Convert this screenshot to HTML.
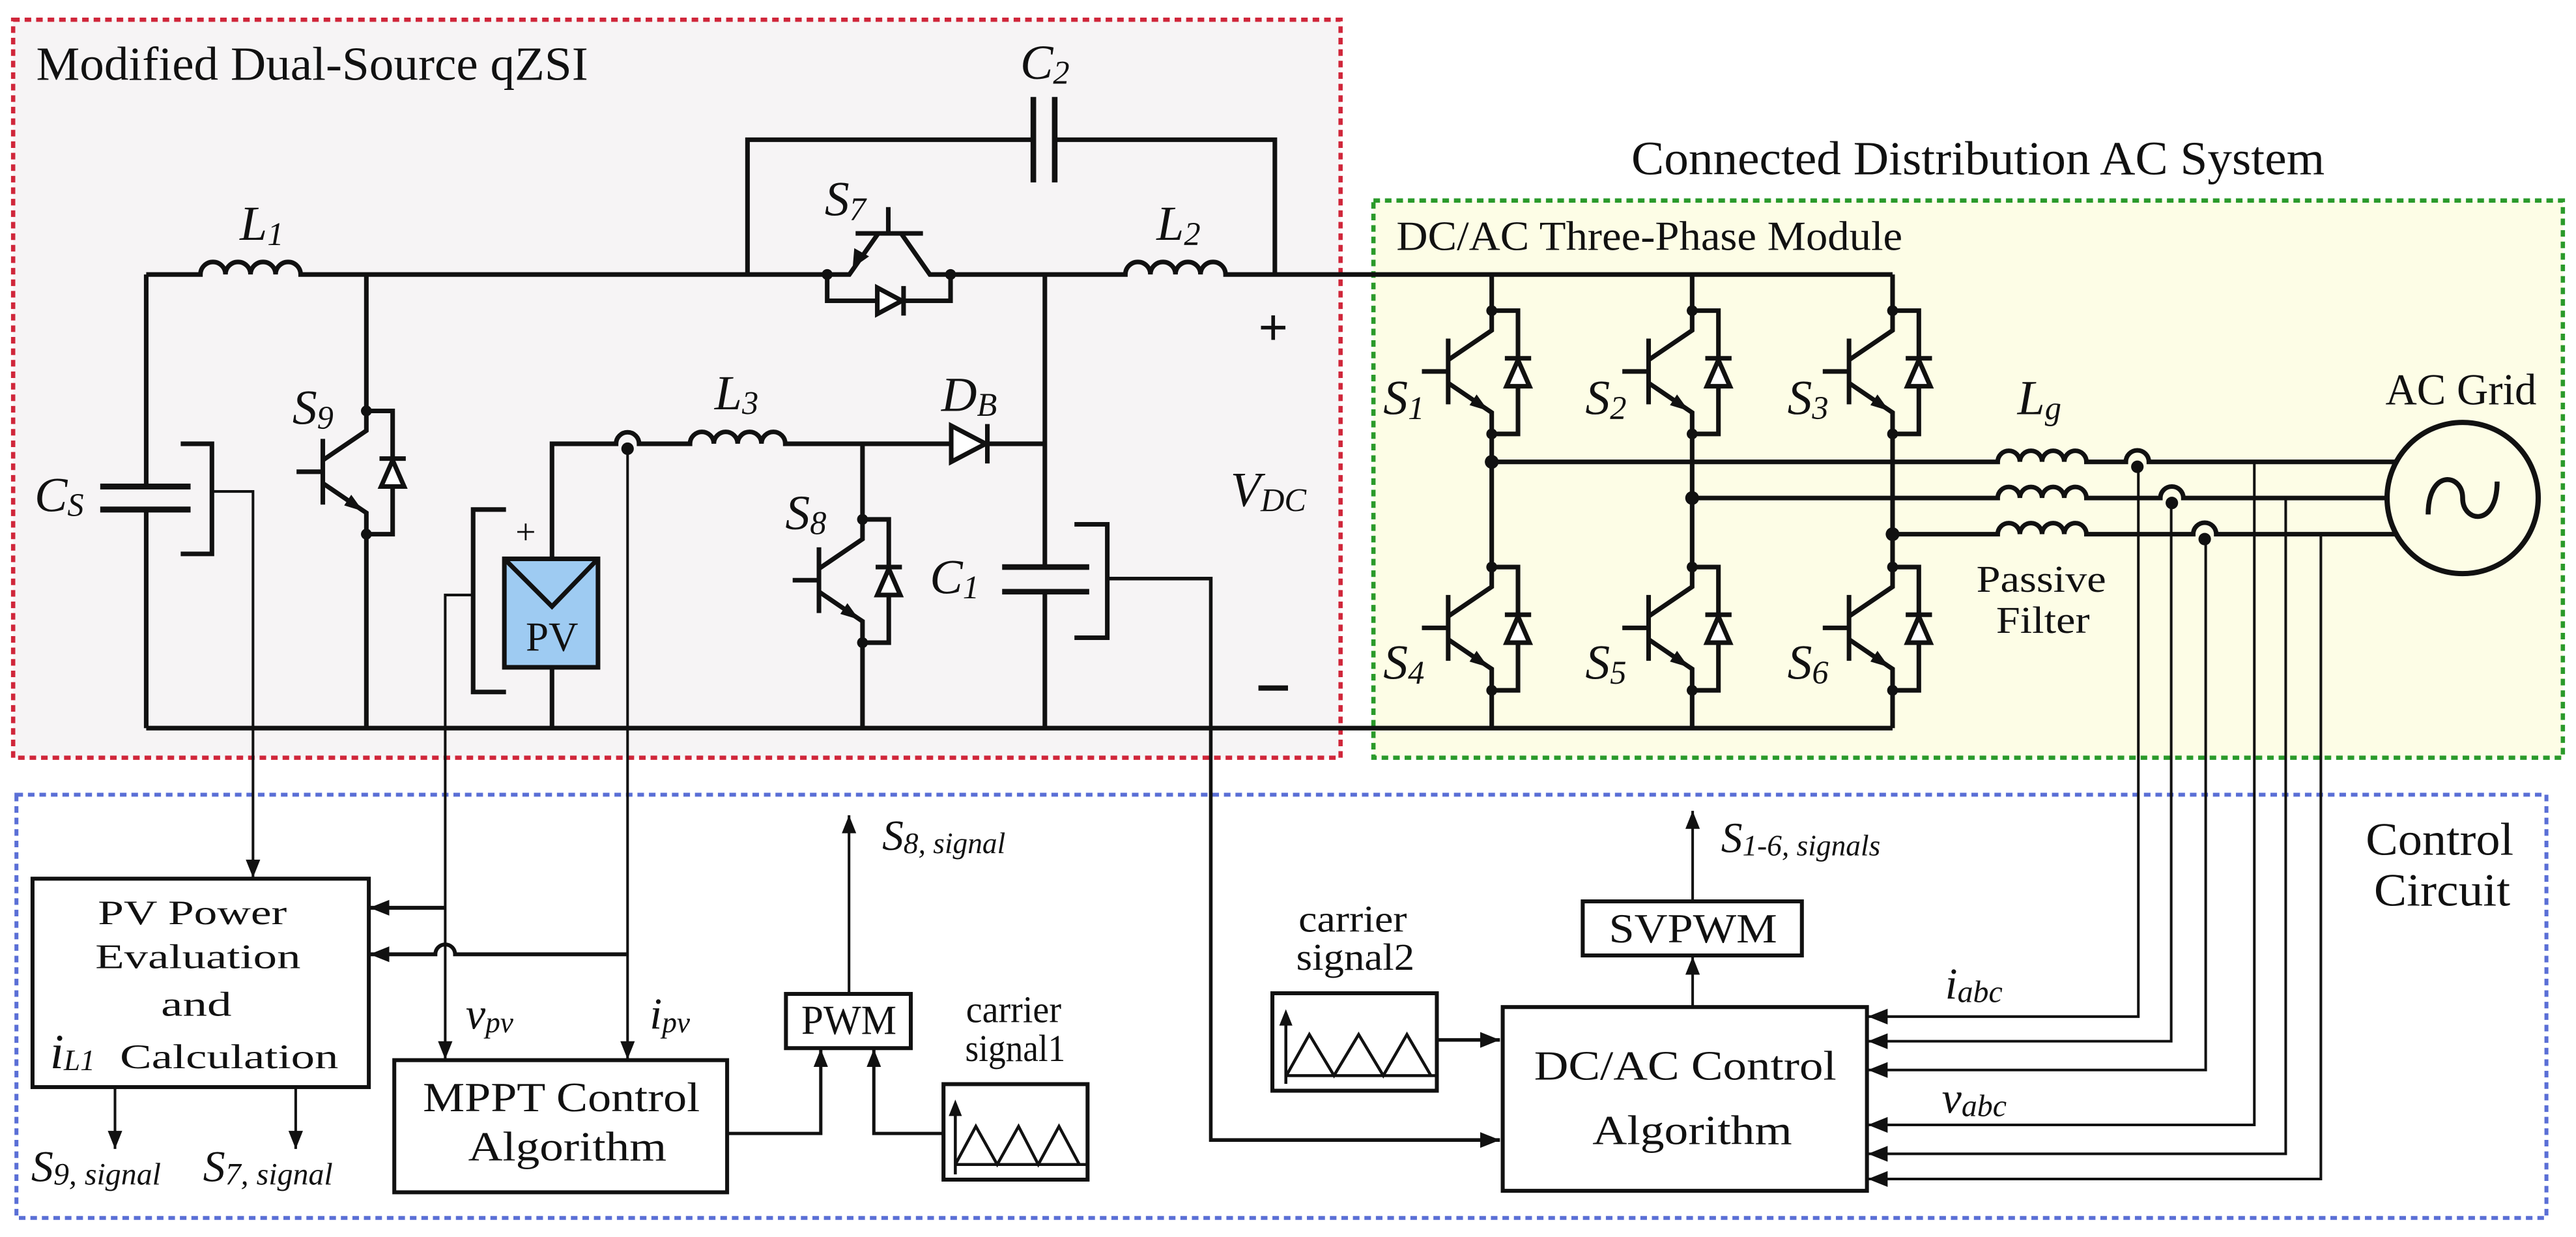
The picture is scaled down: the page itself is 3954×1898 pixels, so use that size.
<!DOCTYPE html>
<html><head><meta charset="utf-8"><style>
html,body{margin:0;padding:0;background:#fff;}
svg{display:block;}
text{font-family:"Liberation Serif",serif;fill:#111;}
.i{font-style:italic;}
</style></head><body>
<svg width="3954" height="1898" viewBox="0 0 1568 752.6" preserveAspectRatio="none" xmlns="http://www.w3.org/2000/svg">
<defs>
<marker id="a" viewBox="0 0 10 8" refX="10" refY="4" markerWidth="11" markerHeight="9" markerUnits="userSpaceOnUse" orient="auto"><path d="M0,0L10,4L0,8z" fill="#111"/></marker>
<marker id="b" viewBox="0 0 10 8" refX="10" refY="4" markerWidth="12" markerHeight="11" markerUnits="userSpaceOnUse" orient="auto"><path d="M0,0L10,4L0,8z" fill="#111"/></marker>
<g id="igbt" stroke="#111" stroke-width="2.8" fill="none">
 <path d="M0,0 V12 L-26.5,30 M-26.5,44 L-3,60 L0,62 V75"/>
 <path d="M-26.5,17 V57 M-42.5,37 H-26.5"/>
 <path d="M0,0 H16 V75 H0"/>
 <path d="M9,46 H23 L16,30 Z M8,29 H24" fill="#fff"/>
 <polygon points="-2,61 -13.5,57.5 -9.2,51" fill="#111" stroke="none"/>
 <circle cx="0" cy="0" r="3.3" fill="#111" stroke="none"/>
 <circle cx="0" cy="75" r="3.3" fill="#111" stroke="none"/>
</g>
</defs>

<rect x="8" y="12" width="808" height="449" fill="#f6f4f5" stroke="#d0263a" stroke-width="2.6" stroke-dasharray="4 3"/>
<rect x="836" y="122" width="724" height="339" fill="#fdfde6" stroke="#2a9a2a" stroke-width="2.6" stroke-dasharray="4 3"/>
<rect x="10" y="483.5" width="1540" height="257.5" fill="#fff" stroke="#5a6fd6" stroke-width="2.4" stroke-dasharray="4 3"/>

<text x="22" y="48.6" font-size="29" textLength="336" lengthAdjust="spacingAndGlyphs">Modified Dual-Source qZSI</text>
<text x="993" y="106" font-size="29" textLength="422" lengthAdjust="spacingAndGlyphs">Connected Distribution AC System</text>
<text x="850" y="152" font-size="25" textLength="308" lengthAdjust="spacingAndGlyphs">DC/AC Three-Phase Module</text>

<g stroke="#111" stroke-width="2.8" fill="none">
 <path d="M89,167 H122 a7.62,7.62 0 0 1 15.25,0 a7.62,7.62 0 0 1 15.25,0 a7.62,7.62 0 0 1 15.25,0 a7.62,7.62 0 0 1 15.25,0 H503.5"/>
 <path d="M578.6,167 H685 a7.62,7.62 0 0 1 15.25,0 a7.62,7.62 0 0 1 15.25,0 a7.62,7.62 0 0 1 15.25,0 a7.62,7.62 0 0 1 15.25,0 H1152"/>
 <path d="M89,443 H1152"/>
 <path d="M89,167 V296 M89,310 V443"/>
 <path d="M61,296 H116 M61,310 H116" stroke-width="3.6"/>
 <path d="M110,270 H129 V337 H110"/>
 <path d="M223,167 V250 M223,325 V443"/>
 <path d="M455,167 V85 H629 M642,85 H776 V167"/>
 <path d="M629,59 V111 M642,59 V111" stroke-width="3.4"/>
 <path d="M503.5,167 H517 L534.6,142 M548.5,142 L566,167 H578.6"/>
 <path d="M520.8,142 H561.8 M540.7,142 V126"/>
 <path d="M503.5,167 V183 H578.6 V167"/>
 <path d="M534,175 V191 L549,183 Z" fill="#fff"/>
 <path d="M550,174 V192"/>
 <path d="M336,340 V270 H375 a7,7 0 0 1 14,0 H420 a7.25,7.25 0 0 1 14.5,0 a7.25,7.25 0 0 1 14.5,0 a7.25,7.25 0 0 1 14.5,0 a7.25,7.25 0 0 1 14.5,0 H636"/>
 <path d="M579,259 V281 L600,270 Z" fill="#fff"/>
 <path d="M601,258 V282"/>
 <path d="M336,406 V443"/>
 <path d="M308,310 H288 V421 H308"/>
 <path d="M525,270 V316 M525,391 V443"/>
 <path d="M636,167 V345 M636,360 V443"/>
 <path d="M610,345 H663 M610,360 H663" stroke-width="3.4"/>
 <path d="M654,319 H674 V388 H654"/>
 <path d="M908,167 V189 M908,264 V345 M908,420 V443"/>
 <path d="M1030,167 V189 M1030,264 V345 M1030,420 V443"/>
 <path d="M1152,167 V189 M1152,264 V345 M1152,420 V443"/>
 <path d="M908,281 H1216 a6.75,6.75 0 0 1 13.5,0 a6.75,6.75 0 0 1 13.5,0 a6.75,6.75 0 0 1 13.5,0 a6.75,6.75 0 0 1 13.5,0 H1294 a7,7 0 0 1 14,0 H1458.6"/>
 <path d="M1030,303 H1216 a6.75,6.75 0 0 1 13.5,0 a6.75,6.75 0 0 1 13.5,0 a6.75,6.75 0 0 1 13.5,0 a6.75,6.75 0 0 1 13.5,0 H1315 a7,7 0 0 1 14,0 H1453"/>
 <path d="M1152,325 H1216 a6.75,6.75 0 0 1 13.5,0 a6.75,6.75 0 0 1 13.5,0 a6.75,6.75 0 0 1 13.5,0 a6.75,6.75 0 0 1 13.5,0 H1335 a7,7 0 0 1 14,0 H1458.6"/>
 <circle cx="1499" cy="303" r="46" stroke-width="3.2"/>
 <path d="M1478,313 C1478,285 1499,288 1499,303 C1499,318 1520,321 1520,293" stroke-width="3"/>
</g>
<g fill="#111">
 <circle cx="382" cy="273" r="3.8"/>
 <circle cx="908" cy="281" r="4.2"/><circle cx="1030" cy="303" r="4.2"/><circle cx="1152" cy="325" r="4.2"/>
 <circle cx="1301" cy="284" r="3.8"/><circle cx="1322" cy="306" r="3.8"/><circle cx="1342" cy="328" r="3.8"/>
 <circle cx="503.5" cy="167" r="3.3"/><circle cx="578.6" cy="167" r="3.3"/>
 <polygon points="519,163 520,151 529,156"/>
</g>
<rect x="307" y="340" width="57" height="66" fill="#9ecbf2" stroke="#111" stroke-width="2.8"/>
<path d="M307,340 L336,369 L364,340" fill="none" stroke="#111" stroke-width="2.8"/>
<text x="336" y="396" font-size="25" text-anchor="middle">PV</text>
<text x="320" y="331" font-size="22" text-anchor="middle">+</text>

<use href="#igbt" x="223" y="250"/>
<use href="#igbt" x="525" y="316"/>
<use href="#igbt" x="908" y="189"/>
<use href="#igbt" x="1030" y="189"/>
<use href="#igbt" x="1152" y="189"/>
<use href="#igbt" x="908" y="345"/>
<use href="#igbt" x="1030" y="345"/>
<use href="#igbt" x="1152" y="345"/>

<g font-size="30" class="i">
 <text x="621" y="48" class="i">C<tspan font-size="20" dy="3">2</tspan></text>
 <text x="146" y="146" class="i">L<tspan font-size="20" dy="3">1</tspan></text>
 <text x="502" y="131" class="i">S<tspan font-size="20" dy="3">7</tspan></text>
 <text x="704" y="146" class="i">L<tspan font-size="20" dy="3">2</tspan></text>
 <text x="178" y="258" class="i">S<tspan font-size="20" dy="3">9</tspan></text>
 <text x="21" y="311" class="i">C<tspan font-size="20" dy="3">S</tspan></text>
 <text x="435" y="249" class="i">L<tspan font-size="20" dy="3">3</tspan></text>
 <text x="573" y="250" class="i">D<tspan font-size="20" dy="3">B</tspan></text>
 <text x="478" y="322" class="i">S<tspan font-size="20" dy="3">8</tspan></text>
 <text x="566" y="361" class="i">C<tspan font-size="20" dy="3">1</tspan></text>
 <text x="749" y="308" class="i">V<tspan font-size="20" dy="3">DC</tspan></text>
 <text x="842" y="252" class="i">S<tspan font-size="20" dy="3">1</tspan></text>
 <text x="965" y="252" class="i">S<tspan font-size="20" dy="3">2</tspan></text>
 <text x="1088" y="252" class="i">S<tspan font-size="20" dy="3">3</tspan></text>
 <text x="842" y="413" class="i">S<tspan font-size="20" dy="3">4</tspan></text>
 <text x="965" y="413" class="i">S<tspan font-size="20" dy="3">5</tspan></text>
 <text x="1088" y="413" class="i">S<tspan font-size="20" dy="3">6</tspan></text>
 <text x="1228" y="252" class="i">L<tspan font-size="20" dy="3">g</tspan></text>
</g>
<text x="775" y="210" font-size="32" text-anchor="middle" font-weight="bold">+</text>
<rect x="766" y="417" width="18" height="3.2" fill="#111"/>
<text x="1452" y="246" font-size="27" textLength="92" lengthAdjust="spacingAndGlyphs">AC Grid</text>
<text x="1203" y="360" font-size="23" textLength="79" lengthAdjust="spacingAndGlyphs">Passive</text>
<text x="1215" y="385" font-size="23" textLength="57" lengthAdjust="spacingAndGlyphs">Filter</text>

<g stroke="#111" stroke-width="1.6" fill="none">
 <path d="M129,299 H154 V534" marker-end="url(#a)"/>
 <path d="M288,362 H271 V644.5" marker-end="url(#a)"/>
 <path d="M382,273 V644.5" marker-end="url(#a)"/>
 <path d="M674,352 H737 V693.6 H913" marker-end="url(#b)" stroke-width="2.2"/>
 <path d="M271,552.3 H225" marker-end="url(#b)" stroke-width="2.4"/>
 <path d="M382,580.6 H277 a6,6 0 0 0 -12,0 H225" marker-end="url(#b)" stroke-width="2.4"/>
 <path d="M70,661.4 V699" marker-end="url(#a)"/>
 <path d="M180,661.4 V699" marker-end="url(#a)"/>
 <path d="M442.6,689.6 H499.6 V638.2" marker-end="url(#a)" stroke-width="2"/>
 <path d="M574.3,689.6 H531.9 V638.2" marker-end="url(#a)" stroke-width="2"/>
 <path d="M516.8,604.7 V496" marker-end="url(#a)"/>
 <path d="M874.6,632.7 H913" marker-end="url(#b)" stroke-width="2.2"/>
 <path d="M1030.3,612.7 V582" marker-end="url(#a)"/>
 <path d="M1030.3,548.4 V493.3" marker-end="url(#a)"/>
 <path d="M1301.6,284 V618.5 H1137" marker-end="url(#b)"/>
 <path d="M1321.6,306 V633.5 H1137" marker-end="url(#b)"/>
 <path d="M1342.6,328 V651 H1137" marker-end="url(#b)"/>
 <path d="M1372.2,281 V684.4 H1137" marker-end="url(#b)"/>
 <path d="M1391.3,303 V702 H1137" marker-end="url(#b)"/>
 <path d="M1412.7,325 V717.3 H1137" marker-end="url(#b)"/>
</g>
<g stroke="#111" stroke-width="2.4" fill="none">
 <path d="M1137,618.5 H1160 M1137,633.5 H1160 M1137,651 H1160 M1137,684.4 H1160 M1137,702 H1160 M1137,717.3 H1160" stroke-width="1"/>
 <rect x="19.8" y="534.6" width="204.7" height="126.8"/>
 <rect x="240" y="645" width="202.6" height="80.4"/>
 <rect x="478.4" y="604.7" width="76" height="33"/>
 <rect x="574.3" y="659.6" width="87.7" height="58.1"/>
 <rect x="774.5" y="604.3" width="100.1" height="59.3"/>
 <rect x="914.7" y="612.7" width="221.7" height="111.8"/>
 <rect x="963.4" y="548.4" width="133.4" height="32.9"/>
 <path d="M581.5,714.5 V675 M581.5,708.5 H662 M581.5,708.5 L594,685.3 L607,708.5 L620,685.3 L632,708.5 L644.6,685.3 L657,708.5" stroke-width="1.8"/>
 <path d="M782.7,659.4 V620 M782.7,654.4 H874.6 M783,654.4 L797,629.4 L812,654.4 L827,629.4 L842,654.4 L856.4,629.4 L871,654.4" stroke-width="1.8"/>
</g>
<polygon points="581.5,669 577.5,679 585.5,679" fill="#111"/>
<polygon points="782.7,614 778.7,624 786.7,624" fill="#111"/>

<text x="59.6" y="562.2" font-size="21" textLength="115" lengthAdjust="spacingAndGlyphs">PV Power</text>
<text x="58" y="589" font-size="21" textLength="125" lengthAdjust="spacingAndGlyphs">Evaluation</text>
<text x="98" y="618" font-size="21" textLength="43" lengthAdjust="spacingAndGlyphs">and</text>
<text x="30.5" y="650" font-size="30" class="i">i<tspan font-size="18" dy="1">L1</tspan></text>
<text x="73" y="650" font-size="21" textLength="133" lengthAdjust="spacingAndGlyphs">Calculation</text>
<text x="257.4" y="676" font-size="25" textLength="168.6" lengthAdjust="spacingAndGlyphs">MPPT Control</text>
<text x="285" y="706" font-size="25" textLength="120.7" lengthAdjust="spacingAndGlyphs">Algorithm</text>
<text x="19" y="718.7" font-size="27" class="i">S<tspan font-size="19" dy="2">9, signal</tspan></text>
<text x="123.6" y="718.7" font-size="27" class="i">S<tspan font-size="19" dy="2">7, signal</tspan></text>
<text x="283.5" y="626" font-size="27" class="i">v<tspan font-size="18" dy="2">pv</tspan></text>
<text x="395.5" y="626" font-size="27" class="i">i<tspan font-size="18" dy="2">pv</tspan></text>
<text x="487.7" y="629.1" font-size="25" textLength="58" lengthAdjust="spacingAndGlyphs">PWM</text>
<text x="537" y="517" font-size="26" class="i">S<tspan font-size="18" dy="2">8, signal</tspan></text>
<text x="588" y="622" font-size="23" textLength="58" lengthAdjust="spacingAndGlyphs">carrier</text>
<text x="587.5" y="645.6" font-size="23" textLength="61" lengthAdjust="spacingAndGlyphs">signal1</text>
<text x="790.4" y="566.8" font-size="23" textLength="66" lengthAdjust="spacingAndGlyphs">carrier</text>
<text x="789" y="590" font-size="23" textLength="72" lengthAdjust="spacingAndGlyphs">signal2</text>
<text x="933.8" y="656.9" font-size="25" textLength="184" lengthAdjust="spacingAndGlyphs">DC/AC Control</text>
<text x="969.3" y="696" font-size="25" textLength="121.5" lengthAdjust="spacingAndGlyphs">Algorithm</text>
<text x="979.3" y="573.4" font-size="25" textLength="102.4" lengthAdjust="spacingAndGlyphs">SVPWM</text>
<text x="1047.6" y="518.4" font-size="26" class="i">S<tspan font-size="18" dy="2">1-6, signals</tspan></text>
<text x="1184" y="607.6" font-size="27" class="i">i<tspan font-size="19" dy="2">abc</tspan></text>
<text x="1182" y="677" font-size="27" class="i">v<tspan font-size="19" dy="2">abc</tspan></text>
<text x="1440" y="520" font-size="28" textLength="90" lengthAdjust="spacingAndGlyphs">Control</text>
<text x="1445" y="551" font-size="28" textLength="83" lengthAdjust="spacingAndGlyphs">Circuit</text>
</svg>
</body></html>
